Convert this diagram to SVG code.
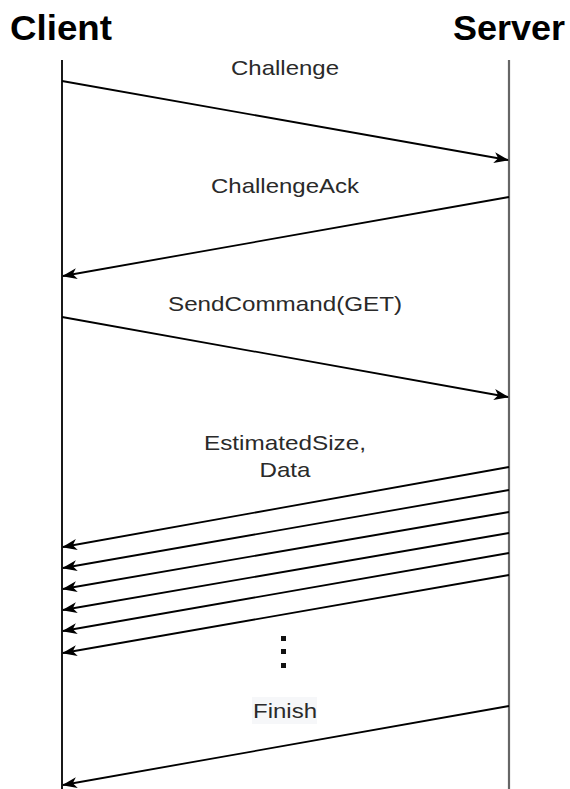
<svg xmlns="http://www.w3.org/2000/svg" width="570" height="789" viewBox="0 0 570 789">
  <style>
    .title { font-family: "Liberation Sans", Arial, sans-serif; font-weight: bold; font-size: 35px; fill: #000; }
    .label { font-family: "Liberation Sans", Arial, sans-serif; font-size: 21px; fill: #2a2a2a; text-anchor: middle; }
    .msg { stroke: #000; stroke-width: 1.8; fill: none; marker-end: url(#head); }
  </style>
  <defs>
    <marker id="head" viewBox="0 0 15 11" refX="14" refY="5.5" markerWidth="15" markerHeight="11" markerUnits="userSpaceOnUse" orient="auto">
      <path d="M0,0 L15,5.5 L0,11 L4,5.5 Z" fill="#000"/>
    </marker>
  </defs>
  <rect width="570" height="789" fill="#fff"/>

  <!-- lifelines -->
  <g id="client">
    <text class="title" x="10" y="40" textLength="102" lengthAdjust="spacingAndGlyphs">Client</text>
    <line x1="62" y1="60" x2="62" y2="789" stroke="#000" stroke-width="1.8"/>
  </g>
  <g id="server">
    <text class="title" x="453" y="40" textLength="112" lengthAdjust="spacingAndGlyphs">Server</text>
    <line x1="509" y1="60" x2="509" y2="789" stroke="#666" stroke-width="2.2"/>
  </g>

  <!-- messages -->
  <g id="connectors">
    <line class="msg" x1="62" y1="81" x2="508" y2="160"/>
    <line class="msg" x1="509" y1="197" x2="63" y2="276"/>
    <line class="msg" x1="62" y1="317" x2="508" y2="397"/>
    <line class="msg" x1="509" y1="467" x2="63" y2="547"/>
    <line class="msg" x1="509" y1="490" x2="63" y2="568"/>
    <line class="msg" x1="509" y1="512" x2="63" y2="589"/>
    <line class="msg" x1="509" y1="533" x2="63" y2="610"/>
    <line class="msg" x1="509" y1="553" x2="63" y2="631"/>
    <line class="msg" x1="509" y1="575" x2="63" y2="653"/>
    <line class="msg" x1="509" y1="706" x2="63" y2="785"/>
  </g>

  <!-- message labels -->
  <g id="labels">
    <text class="label" x="285" y="75" textLength="108" lengthAdjust="spacingAndGlyphs">Challenge</text>
    <text class="label" x="285" y="193" textLength="148" lengthAdjust="spacingAndGlyphs">ChallengeAck</text>
    <text class="label" x="285" y="311" textLength="234" lengthAdjust="spacingAndGlyphs">SendCommand(GET)</text>
    <text class="label" x="285" y="450" textLength="162" lengthAdjust="spacingAndGlyphs">EstimatedSize,</text>
    <text class="label" x="285" y="477" textLength="51" lengthAdjust="spacingAndGlyphs">Data</text>
    <g id="finish">
      <rect x="252" y="697" width="65" height="27" fill="#f6f7f9"/>
      <text class="label" x="285" y="718" textLength="64" lengthAdjust="spacingAndGlyphs">Finish</text>
    </g>
  </g>

  <!-- continuation dots -->
  <g id="ellipsis" fill="#111">
    <rect x="281" y="636" width="5" height="5"/>
    <rect x="281" y="649" width="5" height="5"/>
    <rect x="281" y="663" width="5" height="5"/>
  </g>
</svg>
